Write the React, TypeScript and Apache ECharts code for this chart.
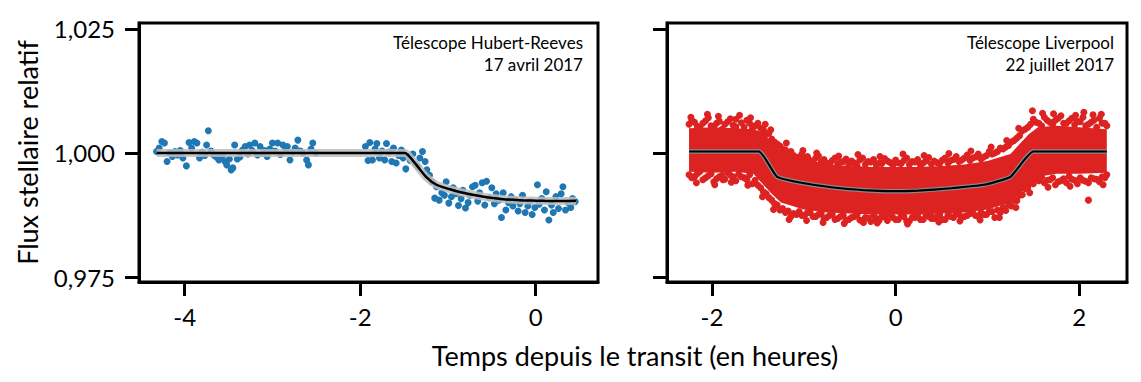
import React, { useEffect, useRef } from "react";
import * as echarts from "echarts";

const BLUE = "#1F77B4";
const RED = "#DD2222";
const FONT = "Lato";

// Left panel (Télescope Hubert-Reeves) observations: [hours, relative flux]
const blueSeg1: number[][] = [
  [-4.32, 1.0003], [-4.29, 1.0010], [-4.26, 1.0023], [-4.23, 1.0020], [-4.20, 0.9983],
  [-4.17, 1.0000], [-4.14, 0.9993], [-4.11, 1.0003], [-4.08, 0.9996], [-4.05, 1.0005],
  [-4.02, 0.9990], [-3.98, 0.9974], [-3.95, 1.0021], [-3.92, 1.0010], [-3.89, 1.0023],
  [-3.86, 1.0020], [-3.83, 0.9990], [-3.80, 1.0002], [-3.77, 0.9995], [-3.75, 1.0016],
  [-3.73, 1.0045], [-3.70, 1.0004], [-3.67, 0.9996], [-3.64, 0.9992], [-3.61, 0.9986],
  [-3.57, 0.9994], [-3.54, 0.9983], [-3.52, 0.9976], [-3.49, 0.9988], [-3.47, 0.9966],
  [-3.45, 0.9970], [-3.43, 1.0016], [-3.40, 0.9988], [-3.37, 0.9992], [-3.34, 1.0006],
  [-3.31, 1.0013], [-3.28, 0.9998], [-3.26, 1.0016], [-3.23, 1.0005], [-3.20, 1.0020],
  [-3.17, 0.9996], [-3.14, 1.0013], [-3.11, 0.9999], [-3.09, 1.0005], [-3.06, 0.9993],
  [-3.03, 1.0008], [-3.00, 1.0020], [-2.97, 1.0004], [-2.94, 1.0020], [-2.91, 0.9997],
  [-2.88, 1.0016], [-2.85, 1.0006], [-2.83, 1.0013], [-2.80, 0.9986], [-2.77, 1.0002],
  [-2.74, 1.0010], [-2.71, 1.0026], [-2.68, 1.0004], [-2.65, 1.0000], [-2.61, 0.9986],
  [-2.59, 0.9976], [-2.56, 1.0008], [-2.54, 1.0020], [-2.50, 1.0000],
];

const blueSeg2: number[][] = [
  [-1.94, 1.0013], [-1.91, 0.9985], [-1.89, 1.0021], [-1.86, 0.9986], [-1.83, 1.0008],
  [-1.81, 1.0019], [-1.78, 0.9990], [-1.75, 1.0004], [-1.72, 0.9986], [-1.70, 1.0019],
  [-1.67, 1.0002], [-1.64, 0.9983], [-1.62, 1.0010], [-1.59, 0.9980], [-1.56, 0.9995],
  [-1.53, 1.0006], [-1.51, 0.9990], [-1.48, 0.9968], [-1.45, 0.9993], [-1.43, 0.9985],
  [-1.40, 0.9998], [-1.37, 0.9978], [-1.34, 0.9972], [-1.32, 0.9990], [-1.29, 1.0003],
  [-1.26, 0.9983], [-1.24, 0.9966], [-1.21, 0.9955], [-1.18, 0.9942], [-1.15, 0.9909],
  [-1.13, 0.9932], [-1.10, 0.9905], [-1.07, 0.9920], [-1.04, 0.9915], [-1.02, 0.9942],
  [-0.99, 0.9899], [-0.96, 0.9912], [-0.94, 0.9930], [-0.91, 0.9918], [-0.88, 0.9894],
  [-0.85, 0.9908], [-0.83, 0.9925], [-0.80, 0.9889], [-0.77, 0.9900], [-0.75, 0.9915],
  [-0.72, 0.9932], [-0.69, 0.9935], [-0.66, 0.9903], [-0.64, 0.9920], [-0.61, 0.9940],
  [-0.58, 0.9895], [-0.56, 0.9943], [-0.53, 0.9910], [-0.50, 0.9930], [-0.47, 0.9898],
  [-0.45, 0.9918], [-0.42, 0.9905], [-0.39, 0.9870], [-0.37, 0.9920], [-0.34, 0.9885],
  [-0.31, 0.9900], [-0.28, 0.9912], [-0.26, 0.9893], [-0.23, 0.9905], [-0.20, 0.9883],
  [-0.18, 0.9898], [-0.15, 0.9915], [-0.12, 0.9880], [-0.09, 0.9893], [-0.07, 0.9902],
  [-0.04, 0.9876], [-0.01, 0.9890], [0.02, 0.9936], [0.04, 0.9897], [0.07, 0.9908],
  [0.10, 0.9885], [0.12, 0.9922], [0.15, 0.9865], [0.18, 0.9895], [0.20, 0.9880],
  [0.23, 0.9912], [0.26, 0.9888], [0.29, 0.9918], [0.31, 0.9932], [0.34, 0.9885],
  [0.37, 0.9900], [0.40, 0.9890], [0.42, 0.9908], [0.45, 0.9902],
];

// Left panel transit model
const blueModel: number[][] = [
  [-4.32, 1.0], [-1.49, 1.0], [-1.43, 0.9991], [-1.36, 0.9976], [-1.25, 0.9952],
  [-1.13, 0.9936], [-0.94, 0.9925], [-0.75, 0.9917], [-0.56, 0.9911], [-0.37, 0.9907],
  [-0.18, 0.9905], [0.01, 0.9904], [0.2, 0.9903], [0.46, 0.9904],
];

// Right panel (Télescope Liverpool): dense core of the point cloud
const redCoreX = [-2.25, -2.0, -1.75, -1.55, -1.45, -1.35, -1.25, -1.0, -0.75, -0.5, -0.25, 0, 0.25, 0.5, 0.75, 1.0, 1.25, 1.35, 1.45, 1.55, 1.75, 2.0, 2.3];
const redCoreUpper = [1.0050, 1.0052, 1.0050, 1.0048, 1.0042, 1.0022, 1.0004, 0.9988, 0.9978, 0.9974, 0.9972, 0.9972, 0.9972, 0.9974, 0.9977, 0.9984, 0.9998, 1.0018, 1.0038, 1.0052, 1.0055, 1.0052, 1.0048];
const redCoreLower = [0.9962, 0.9960, 0.9962, 0.9958, 0.9938, 0.9918, 0.9900, 0.9886, 0.9880, 0.9878, 0.9876, 0.9876, 0.9876, 0.9878, 0.9880, 0.9886, 0.9900, 0.9918, 0.9935, 0.9952, 0.9958, 0.9958, 0.9960];

// Right panel: individual observations around the cloud edges
const redPoints: number[][] = [
  [-2.25, 1.0058], [-2.25, 0.9956], [-2.19, 1.0062], [-2.19, 0.9952], [-2.13, 1.0050], [-2.13, 0.9963],
  [-2.07, 1.0065], [-2.07, 0.9950], [-2.01, 1.0055], [-2.01, 0.9958], [-1.95, 1.0060], [-1.95, 0.9948],
  [-1.89, 1.0048], [-1.89, 0.9955], [-1.83, 1.0063], [-1.83, 0.9960], [-1.77, 1.0056], [-1.77, 0.9952],
  [-1.74, 1.0068], [-1.71, 0.9957], [-1.65, 1.0052], [-1.65, 0.9950], [-1.59, 1.0060], [-1.59, 0.9956],
  [-1.53, 1.0055], [-1.53, 0.9945], [-1.47, 1.0050], [-1.47, 0.9930], [-1.41, 1.0038], [-1.41, 0.9918],
  [-1.35, 1.0028], [-1.35, 0.9905], [-1.29, 1.0018], [-1.29, 0.9895], [-1.23, 1.0008], [-1.23, 0.9888],
  [-1.17, 1.0000], [-1.17, 0.9883], [-1.11, 0.9995], [-1.11, 0.9878], [-1.05, 0.9992], [-1.05, 0.9882],
  [-0.99, 0.9988], [-0.99, 0.9875], [-0.93, 0.9985], [-0.93, 0.9880], [-0.87, 0.9990], [-0.87, 0.9872],
  [-0.81, 0.9982], [-0.81, 0.9878], [-0.75, 0.9980], [-0.75, 0.9870], [-0.69, 0.9985], [-0.69, 0.9876],
  [-0.63, 0.9978], [-0.63, 0.9868], [-0.57, 0.9983], [-0.57, 0.9874], [-0.51, 0.9976], [-0.51, 0.9866],
  [-0.45, 0.9980], [-0.45, 0.9872], [-0.39, 0.9986], [-0.39, 0.9865], [-0.33, 0.9977], [-0.33, 0.9870],
  [-0.27, 0.9982], [-0.27, 0.9862], [-0.21, 0.9975], [-0.21, 0.9868], [-0.15, 0.9979], [-0.15, 0.9872],
  [-0.09, 0.9984], [-0.09, 0.9864], [-0.03, 0.9976], [-0.03, 0.9870], [0.03, 0.9980], [0.03, 0.9866],
  [0.09, 0.9985], [0.09, 0.9872], [0.15, 0.9977], [0.15, 0.9863], [0.21, 0.9982], [0.21, 0.9870],
  [0.27, 0.9976], [0.27, 0.9866], [0.33, 0.9984], [0.33, 0.9874], [0.39, 0.9978], [0.39, 0.9868],
  [0.45, 0.9981], [0.45, 0.9872], [0.51, 0.9986], [0.51, 0.9866], [0.57, 0.9980], [0.57, 0.9874],
  [0.63, 0.9987], [0.63, 0.9870], [0.69, 0.9983], [0.69, 0.9876], [0.75, 0.9990], [0.75, 0.9872],
  [0.81, 0.9985], [0.81, 0.9878], [0.87, 0.9992], [0.87, 0.9874], [0.93, 0.9988], [0.93, 0.9880],
  [0.99, 0.9995], [0.99, 0.9876], [1.05, 0.9998], [1.05, 0.9882], [1.11, 1.0003], [1.11, 0.9885],
  [1.17, 1.0008], [1.17, 0.9890], [1.23, 1.0015], [1.23, 0.9896], [1.29, 1.0025], [1.29, 0.9905],
  [1.35, 1.0035], [1.35, 0.9915], [1.41, 1.0048], [1.41, 0.9928], [1.47, 1.0058], [1.47, 0.9940],
  [1.53, 1.0062], [1.53, 0.9948], [1.59, 1.0055], [1.59, 0.9952], [1.65, 1.0066], [1.65, 0.9945],
  [1.71, 1.0058], [1.71, 0.9950], [1.77, 1.0070], [1.77, 0.9942], [1.83, 1.0060], [1.83, 0.9948],
  [1.89, 1.0065], [1.89, 0.9953], [1.95, 1.0057], [1.95, 0.9945], [2.01, 1.0063], [2.01, 0.9950],
  [2.07, 1.0055], [2.07, 0.9943], [2.13, 1.0062], [2.13, 0.9950], [2.19, 1.0052], [2.19, 0.9947],
  [2.25, 1.0060], [2.25, 0.9952], [2.30, 1.0055], [2.30, 0.9956],
  [1.49, 1.0085], [2.15, 1.0077], [2.10, 0.9905], [0.38, 0.9875], [-2.20, 0.9952], [-0.35, 0.9860],
];

// Right panel: second row of scattered observations at the upper edge
const redUpper2: number[][] = [
  [-2.22, 1.0066], [-2.16, 1.0054], [-2.10, 1.0060], [-2.04, 1.0071], [-1.98, 1.0052], [-1.92, 1.0064],
  [-1.86, 1.0058], [-1.80, 1.0069], [-1.74, 1.0053], [-1.68, 1.0061], [-1.62, 1.0066], [-1.56, 1.0050],
  [-1.50, 1.0060], [-1.44, 1.0047], [-1.38, 1.0040], [-1.32, 1.0022], [-1.26, 1.0014], [-1.20, 1.0006],
  [-1.14, 1.0003], [-1.08, 0.9990], [-1.02, 0.9998], [-0.96, 0.9993], [-0.90, 0.9983], [-0.84, 0.9994],
  [-0.78, 0.9987], [-0.72, 0.9978], [-0.66, 0.9990], [-0.60, 0.9982], [-0.54, 0.9988], [-0.48, 0.9984],
  [-0.42, 0.9974], [-0.36, 0.9990], [-0.30, 0.9983], [-0.24, 0.9987], [-0.18, 0.9980], [-0.12, 0.9989],
  [-0.06, 0.9981], [0.00, 0.9986], [0.06, 0.9979], [0.12, 0.9990], [0.18, 0.9983], [0.24, 0.9987],
  [0.30, 0.9980], [0.36, 0.9991], [0.42, 0.9984], [0.48, 0.9979], [0.54, 0.9990], [0.60, 0.9985],
  [0.66, 0.9993], [0.72, 0.9986], [0.78, 0.9996], [0.84, 0.9990], [0.90, 0.9998], [0.96, 0.9992],
  [1.02, 1.0003], [1.08, 1.0000], [1.14, 1.0010], [1.20, 1.0012], [1.26, 1.0022], [1.32, 1.0030],
  [1.38, 1.0045], [1.44, 1.0052], [1.50, 1.0068], [1.56, 1.0060], [1.62, 1.0072], [1.68, 1.0062],
  [1.74, 1.0066], [1.80, 1.0075], [1.86, 1.0060], [1.92, 1.0070], [1.98, 1.0064], [2.04, 1.0072],
  [2.10, 1.0058], [2.16, 1.0066], [2.22, 1.0070], [2.28, 1.0060],
];

// Right panel: second row of scattered observations at the lower edge
const redLower2: number[][] = [
  [-2.22, 0.9950], [-2.16, 0.9958], [-2.10, 0.9946], [-2.04, 0.9954], [-1.98, 0.9942], [-1.92, 0.9952],
  [-1.86, 0.9947], [-1.80, 0.9955], [-1.74, 0.9944], [-1.68, 0.9952], [-1.62, 0.9946], [-1.56, 0.9938],
  [-1.50, 0.9935], [-1.44, 0.9922], [-1.38, 0.9910], [-1.32, 0.9898], [-1.26, 0.9885], [-1.20, 0.9880],
  [-1.14, 0.9872], [-1.08, 0.9876], [-1.02, 0.9874], [-0.96, 0.9880], [-0.90, 0.9872], [-0.84, 0.9876],
  [-0.78, 0.9868], [-0.72, 0.9874], [-0.66, 0.9866], [-0.60, 0.9872], [-0.54, 0.9864], [-0.48, 0.9870],
  [-0.42, 0.9876], [-0.36, 0.9862], [-0.30, 0.9869], [-0.24, 0.9874], [-0.18, 0.9864], [-0.12, 0.9871],
  [-0.06, 0.9876], [0.00, 0.9866], [0.06, 0.9873], [0.12, 0.9863], [0.18, 0.9870], [0.24, 0.9876],
  [0.30, 0.9866], [0.36, 0.9872], [0.42, 0.9868], [0.48, 0.9875], [0.54, 0.9866], [0.60, 0.9872],
  [0.66, 0.9878], [0.72, 0.9870], [0.78, 0.9874], [0.84, 0.9879], [0.90, 0.9872], [0.96, 0.9876],
  [1.02, 0.9882], [1.08, 0.9870], [1.14, 0.9880], [1.20, 0.9884], [1.26, 0.9893], [1.32, 0.9904],
  [1.38, 0.9916], [1.44, 0.9930], [1.50, 0.9938], [1.56, 0.9944], [1.62, 0.9940], [1.68, 0.9946],
  [1.74, 0.9936], [1.80, 0.9944], [1.86, 0.9940], [1.92, 0.9947], [1.98, 0.9938], [2.04, 0.9945],
  [2.10, 0.9940], [2.16, 0.9948], [2.22, 0.9942], [2.28, 0.9950],
];

// Right panel: sparse outlying observations beyond the cloud edges
const redOutliers: number[][] = [
  [-2.23, 1.0072], [-2.05, 1.0078], [-1.93, 1.0074], [-1.70, 1.0076], [-1.58, 1.0071], [-1.42, 1.0058],
  [-1.36, 1.0047], [-1.19, 1.0020], [-1.01, 1.0005], [-0.86, 1.0000], [-0.62, 0.9994], [-0.41, 0.9997],
  [-0.17, 0.9993], [0.08, 0.9998], [0.31, 0.9995], [0.58, 0.9999], [0.82, 1.0004], [1.04, 1.0012],
  [1.21, 1.0025], [1.34, 1.0050], [1.60, 1.0080], [1.72, 1.0079], [1.96, 1.0076], [2.24, 1.0078],
  [2.05, 1.0082],
  [-2.17, 0.9940], [-1.97, 0.9936], [-1.79, 0.9941], [-1.61, 0.9935], [-1.45, 0.9912], [-1.33, 0.9886],
  [-1.16, 0.9866], [-0.97, 0.9864], [-0.79, 0.9860], [-0.56, 0.9858], [-0.20, 0.9859], [0.13, 0.9857],
  [0.47, 0.9861], [0.70, 0.9863], [0.92, 0.9865], [1.13, 0.9870], [1.31, 0.9890], [1.46, 0.9920],
  [1.66, 0.9931], [1.90, 0.9933], [2.26, 0.9936], [-1.88, 0.9946],
];

// Right panel transit model
const redModel: number[][] = [
  [-2.25, 1.0003], [-1.49, 1.0003], [-1.29, 0.9952], [-0.96, 0.9938], [-0.6, 0.9929],
  [-0.24, 0.9924], [0, 0.9923], [0.24, 0.9924], [0.6, 0.9929], [0.96, 0.9936],
  [1.25, 0.9952], [1.5, 1.0003], [2.3, 1.0003],
];

const yTicks = [0.975, 1.0, 1.025];
const xTicksLeft = [-4, -2, 0];
const xTicksRight = [-2, 0, 2];

export default function App() {
  const ref = useRef<HTMLDivElement>(null);
  useEffect(() => {
    if (!ref.current) return;
    const chart = echarts.init(ref.current, null, { renderer: "svg" });
    const tickStyle = { color: "#000", width: 3 };
    const yAxisBase = (labels: boolean, name?: string) => ({
      type: "value",
      min: 0.974,
      max: 1.0262,
      axisLine: { show: true, onZero: false, lineStyle: tickStyle },
      splitLine: { show: false },
      axisTick: { show: true, customValues: yTicks, length: 14, lineStyle: tickStyle },
      axisLabel: {
        show: labels,
        customValues: yTicks,
        margin: 24,
        fontSize: 24,
        color: "#000",
        fontFamily: FONT,
        formatter: (v: number) => v.toFixed(3).replace(".", ","),
      },
      name: name,
      nameLocation: "middle",
      nameGap: 98,
      nameRotate: 90,
      nameTextStyle: { fontSize: 27, color: "#000", fontFamily: FONT },
    });
    const xAxisBase = (grid: number, min: number, max: number, ticks: number[]) => ({
      type: "value",
      gridIndex: grid,
      min,
      max,
      axisLine: { show: true, onZero: false, lineStyle: tickStyle },
      splitLine: { show: false },
      axisTick: { show: true, customValues: ticks, length: 14, lineStyle: tickStyle },
      axisLabel: {
        customValues: ticks,
        margin: 22,
        fontSize: 24,
        color: "#000",
        fontFamily: FONT,
        formatter: (v: number) => String(v),
      },
    });
    const bandSeries = {
      type: "custom",
      xAxisIndex: 1,
      yAxisIndex: 1,
      data: [[0, 1]],
      silent: true,
      z: 1,
      renderItem: (_p: any, api: any) => {
        const pts: number[][] = [];
        for (let i = 0; i < redCoreX.length; i++) pts.push(api.coord([redCoreX[i], redCoreUpper[i]]));
        for (let i = redCoreX.length - 1; i >= 0; i--) pts.push(api.coord([redCoreX[i], redCoreLower[i]]));
        return { type: "polygon", shape: { points: pts }, style: { fill: RED } };
      },
    };
    const annot = (text: string, x: number, y: number) => ({
      type: "text", x, y,
      style: { text, fontSize: 17, fill: "#000", fontFamily: FONT, textAlign: "right", textVerticalAlign: "middle" },
    });
    const redScatter = (data: number[][]) => ({
      type: "scatter", xAxisIndex: 1, yAxisIndex: 1, data,
      symbolSize: 7, itemStyle: { color: RED, opacity: 1 }, z: 2, silent: true,
    });
    chart.setOption({
      animation: false,
      backgroundColor: "#fff",
      grid: [
        { left: 139, top: 23, width: 459, height: 259, show: true, borderColor: "#000", borderWidth: 3 },
        { left: 667, top: 23, width: 460, height: 259, show: true, borderColor: "#000", borderWidth: 3 },
      ],
      xAxis: [
        xAxisBase(0, -4.52, 0.71, xTicksLeft),
        xAxisBase(1, -2.49, 2.52, xTicksRight),
      ],
      yAxis: [
        { ...yAxisBase(true, "Flux stellaire relatif"), gridIndex: 0 },
        { ...yAxisBase(false), gridIndex: 1 },
      ],
      graphic: [
        {
          type: "text", x: 635, y: 355,
          style: { text: "Temps depuis le transit (en heures)", fontSize: 27, fill: "#000", fontFamily: FONT, textAlign: "center", textVerticalAlign: "middle" },
        },
        annot("Télescope Hubert-Reeves", 583, 42),
        annot("17 avril 2017", 583, 64),
        annot("Télescope Liverpool", 1114, 42),
        annot("22 juillet 2017", 1114, 64),
      ],
      series: [
        {
          type: "scatter", xAxisIndex: 0, yAxisIndex: 0, data: blueSeg1,
          symbolSize: 7, itemStyle: { color: BLUE, opacity: 1 }, z: 2, silent: true,
        },
        {
          type: "scatter", xAxisIndex: 0, yAxisIndex: 0, data: blueSeg2,
          symbolSize: 7, itemStyle: { color: BLUE, opacity: 1 }, z: 2, silent: true,
        },
        {
          type: "line", xAxisIndex: 0, yAxisIndex: 0, data: blueModel, smooth: 0.3,
          showSymbol: false, lineStyle: { color: "#bdbdbd", width: 8, opacity: 0.85 }, z: 3, silent: true,
        },
        {
          type: "line", xAxisIndex: 0, yAxisIndex: 0, data: blueModel, smooth: 0.3,
          showSymbol: false, lineStyle: { color: "#000", width: 2.5 }, z: 4, silent: true,
        },
        bandSeries,
        redScatter(redPoints),
        redScatter(redUpper2),
        redScatter(redLower2),
        redScatter(redOutliers),
        {
          type: "line", xAxisIndex: 1, yAxisIndex: 1, data: redModel, smooth: 0.15,
          showSymbol: false, lineStyle: { color: "#8a8a8a", width: 4.5 }, z: 3, silent: true,
        },
        {
          type: "line", xAxisIndex: 1, yAxisIndex: 1, data: redModel, smooth: 0.15,
          showSymbol: false, lineStyle: { color: "#000", width: 2.2 }, z: 4, silent: true,
        },
      ],
    });
    return () => chart.dispose();
  }, []);
  return (
    <div
      ref={ref}
      style={{ position: "absolute", left: 0, top: 0, width: 1141, height: 382, background: "#fff" }}
    />
  );
}
